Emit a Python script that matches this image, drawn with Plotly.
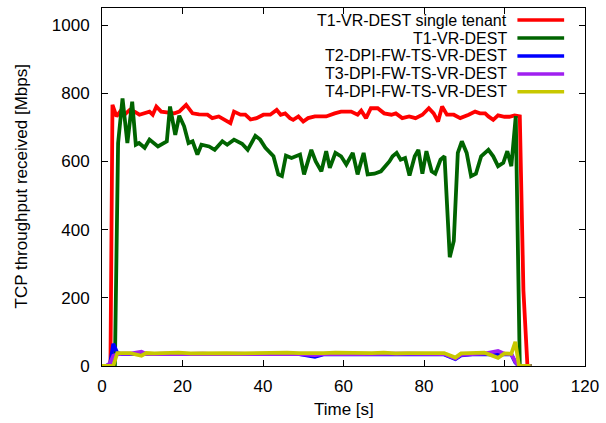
import plotly.graph_objects as go

# ---- data ----
series_names = ["T1-VR-DEST single tenant", "T1-VR-DEST",
                "T2-DPI-FW-TS-VR-DEST", "T3-DPI-FW-TS-VR-DEST", "T4-DPI-FW-TS-VR-DEST"]
series_colors = ["#FF0000", "#006400", "#0000FF", "#A020F0", "#C8C800"]

red_t = [0, 1, 2.1, 2.6, 3.6, 4.8, 5.6, 6.9, 8.1, 9.3,
         10.6, 11.8, 12.6, 13.5, 14.7, 16.3, 18, 19.2, 20.9, 22.5,
         24.1, 26.2, 27.4, 29, 30.7, 31.9, 32.8, 34.4, 35.6, 36.9,
         38.4, 40.1, 41.8, 43.4, 44.4, 45.5, 46.7, 47.5, 48.8, 50,
         51.2, 52.9, 54.5, 55.7, 57.8, 59.4, 61.9, 63.5, 64.4, 65.6,
         66.8, 68.5, 70.1, 71.9, 73, 74.6, 76.3, 77.9, 79.6, 81.2,
         82.4, 83.5, 84.5, 85.7, 87.4, 89, 91.1, 92.7, 93.9, 95.2,
         96, 97.2, 98.4, 100, 101.2, 102.5, 103.8, 104.7, 105.7, 106.7]
red_v = [0, 0, 0, 766, 732, 751, 737, 751, 746, 737,
         741, 746, 737, 761, 746, 744, 741, 746, 766, 741,
         738, 737, 727, 732, 722, 712, 746, 737, 737, 723,
         727, 737, 737, 751, 737, 741, 727, 722, 732, 717,
         727, 732, 732, 732, 741, 746, 746, 737, 749, 727,
         756, 756, 741, 737, 741, 727, 732, 727, 737, 756,
         741, 717, 761, 737, 737, 727, 737, 746, 741, 741,
         732, 722, 735, 731, 731, 735, 732, 221, 0, 0]

green_t = [0, 1, 2, 3.2, 4.0, 5.1, 6.3, 7.5, 8.4, 9.2,
           10.6, 11.8, 13.9, 15.5, 16.1, 16.9, 18.2, 19.2, 20.4, 21.5,
           22.5, 23.7, 24.7, 26.6, 28, 29.9, 31.1, 32.8, 34.8, 36.2,
           38.1, 39.3, 40.6, 42.6, 43.8, 44.7, 45.7, 47.1, 48.4, 49.2,
           50.2, 52, 53.1, 54.5, 55.7, 56.6, 58, 59.4, 60.7, 62.3,
           63.5, 65, 66, 67.7, 69.3, 70.5, 71.4, 72.2, 73.2, 74.2,
           75.3, 76.4, 77.7, 78.6, 79.6, 80.6, 81.9, 82.8, 84.1, 85.1,
           86.4, 87.4, 88.4, 89.4, 90.6, 91.7, 92.9, 94.2, 96, 97.2,
           98.4, 99.7, 100.7, 101.7, 102.8, 103.8, 106.7]
green_v = [0, 0, 0, 0, 654, 785, 654, 775, 649, 654,
           640, 664, 644, 654, 659, 761, 678, 734, 703, 654,
           659, 620, 649, 644, 634, 659, 649, 664, 652, 634,
           675, 664, 640, 615, 562, 557, 617, 610, 615, 620,
           562, 634, 600, 571, 630, 581, 625, 615, 591, 625,
           562, 625, 562, 564, 571, 586, 600, 615, 625, 605,
           610, 559, 615, 634, 564, 630, 571, 564, 605, 615,
           319, 367, 625, 659, 625, 557, 564, 615, 634, 615,
           586, 596, 630, 586, 733, 0, 0]

low_t = [0, 1, 2, 2.8, 3.8, 5, 7, 9.8, 11, 13,
         16, 19, 22, 25, 28, 31, 34, 37, 40, 43,
         46, 49, 52.9, 55, 58, 61, 64, 67, 70, 73,
         76, 79, 82, 85, 87.8, 89.2, 92, 95, 98.4, 100,
         101.7, 102.7, 103.6, 106.5]
blue_v = [0, 0, 5, 65, 38, 35, 35, 34, 35, 35,
          35, 34, 35, 35, 34, 35, 35, 34, 35, 35,
          34, 35, 27, 34, 35, 35, 34, 35, 34, 35,
          35, 34, 35, 34, 20, 31, 34, 35, 35, 35,
          34, 10, 0, 0]
purple_v = [0, 0, 8, 30, 34, 36, 36, 42, 35, 36,
            36, 35, 36, 36, 35, 36, 36, 35, 36, 36,
            36, 35, 32, 35, 36, 36, 35, 36, 35, 36,
            36, 35, 36, 35, 22, 33, 35, 36, 44, 36,
            35, 12, 0, 0]
yellow_v = [0, 0, 0, 0, 38, 39, 38, 30, 38, 37,
            38, 39, 37, 38, 39, 38, 37, 38, 39, 38,
            39, 38, 37, 38, 39, 38, 37, 38, 39, 37,
            38, 39, 38, 38, 25, 37, 38, 39, 24, 37,
            36, 71, 0, 0]

x_ticks = [0, 20, 40, 60, 80, 100, 120]
y_ticks = [0, 200, 400, 600, 800, 1000]

FONT = "Liberation Sans, Arial, sans-serif"
W, H = 606, 423
L, R, T, B = 102, 18, 7, 57
PW, PH = W - L - R, H - T - B

xs = [red_t, green_t, low_t, low_t, low_t]
ys = [red_v, green_v, blue_v, purple_v, yellow_v]

fig = go.Figure()
for name, col, x, y in zip(series_names, series_colors, xs, ys):
    fig.add_trace(go.Scatter(x=x, y=y, mode="lines", name=name,
                             line=dict(color=col, width=3.8), showlegend=False))

axis_common = dict(showgrid=False, zeroline=False, showline=True, linecolor="black",
                   linewidth=1, mirror="allticks", ticks="inside", ticklen=6,
                   tickcolor="black", tickwidth=1,
                   tickfont=dict(family=FONT, size=17, color="black"))
fig.update_xaxes(range=[0, 120], tickvals=x_ticks, ticklabelstandoff=5, **axis_common)
fig.update_yaxes(range=[0, 1050], tickvals=y_ticks, ticklabelstandoff=8, **axis_common)

# manual gnuplot-style legend (text right aligned, sample on the right)
def px_x(p):
    return (p - L) / PW

def px_y(p):
    return (H - B - p) / PH

rows = [19.1, 37.1, 55.1, 73.1, 91.1]
annotations = []
shapes = []
for name, col, ry in zip(series_names, series_colors, rows):
    annotations.append(dict(x=px_x(511), y=px_y(ry), xref="paper", yref="paper",
                            text=name, showarrow=False, xanchor="right", yanchor="middle",
                            borderpad=0,
                            font=dict(family=FONT, size=16, color="black")))
    shapes.append(dict(type="line", xref="paper", yref="paper",
                       x0=px_x(520), x1=px_x(567), y0=px_y(ry), y1=px_y(ry),
                       line=dict(color=col, width=3.5)))

annotations.append(dict(x=px_x(20), y=0.5, xref="paper", yref="paper",
                        text="TCP throughput received [Mbps]", textangle=-90,
                        showarrow=False, xanchor="center", yanchor="middle",
                        font=dict(family=FONT, size=17, color="black")))
annotations.append(dict(x=0.5, y=px_y(410), xref="paper", yref="paper",
                        text="Time [s]", showarrow=False, xanchor="center", yanchor="middle",
                        font=dict(family=FONT, size=17, color="black")))

fig.update_layout(width=W, height=H, margin=dict(l=L, r=R, t=T, b=B),
                  paper_bgcolor="white", plot_bgcolor="white",
                  annotations=annotations, shapes=shapes, showlegend=False)

fig.write_html("out.html")
